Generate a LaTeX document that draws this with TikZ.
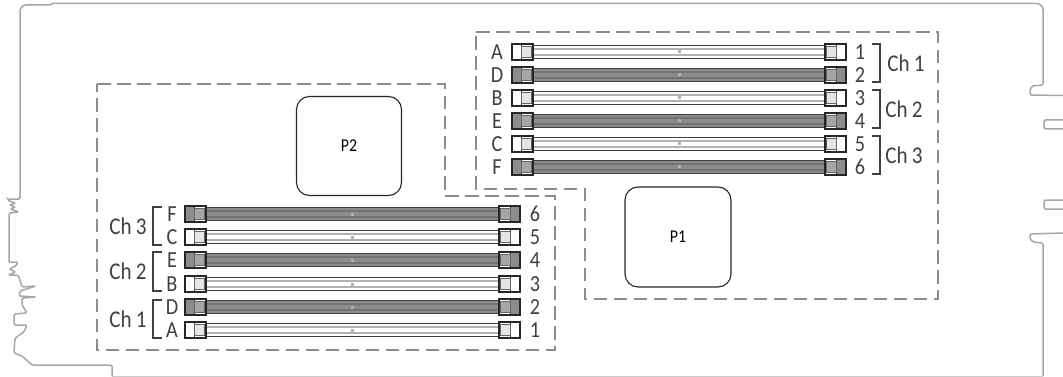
\documentclass[tikz,border=0pt]{standalone}
\usepackage{fontspec}
\setmainfont[FakeStretch=0.88]{Carlito}
\tikzset{
  outline/.style={draw=black!35, line width=1.5pt, rounded corners=1.5pt},
  zone/.style={draw=black!45, line width=1.3pt, dash pattern=on 13.5pt off 6.5pt},
  cpu/.style={draw=black!85, line width=1.1pt, rounded corners=13pt, font=\fontsize{18}{18}\selectfont},
  lbl/.style={inner sep=0pt, text=black!75, font=\fontsize{23}{23}\selectfont},
  chlbl/.style={inner sep=0pt, text=black!75, font=\fontsize{24}{24}\selectfont},
  brk/.style={draw=black!75, line width=1.1pt},
}
% one end of a slot: #1 outer x, #2 direction, #3 centre y, #4 outer fill, #5 inner fill
\newcommand{\memend}[5]{
  \draw[black!85, line width=1.1pt, fill=#4] (#1,#3-8) rectangle (#1+#2*9.5,#3+8);
  \draw[black!60, line width=1pt, fill=#5] (#1+#2*9.5,#3-5.5) rectangle (#1+#2*19.5,#3+5.5);
  \draw[black!85, line width=1.1pt] (#1+#2*9.5,#3-8) -- (#1+#2*21,#3-8) -- (#1+#2*21,#3+8) -- (#1+#2*9.5,#3+8);
}
% one slot: #1 left, #2 right, #3 centre y, #4 body, #5 stripes, #6 inner fill of the ends
\newcommand{\memslot}[6]{
  \fill[#4] (#1+21,#3-7) rectangle (#2-21,#3+7);
  \draw[black!75, line width=1.7pt] (#1+21,#3-6.5) -- (#2-21,#3-6.5);
  \draw[black!75, line width=1.7pt] (#1+21,#3+6.5) -- (#2-21,#3+6.5);
  \draw[#5, line width=1.5pt] (#1+21,#3-3) -- (#2-21,#3-3);
  \draw[#5, line width=1.5pt] (#1+21,#3+3) -- (#2-21,#3+3);
  \fill[black!30] ({(#1+#2)/2-1.5},#3-1.5) rectangle ({(#1+#2)/2+1.5},#3+1.5);
  \memend{#1}{1}{#3}{#4}{#6}
  \memend{#2}{-1}{#3}{#4}{#6}
}
\begin{document}
\begin{tikzpicture}[x=1pt,y=-1pt]
  \useasboundingbox (0,0) rectangle (1063,377);
  % board outline
  \draw[outline] (52,3.5) -- (1037,3.5) -- (1040,4) -- (1043,8) -- (1043,85) -- (1032,86) -- (1030,90) -- (1030,95) -- (1063,95.5);
  \draw[outline] (52,3.5) -- (52,5) -- (24,5) -- (20,9) -- (20,199) -- (8,199) -- (9,201) -- (16,203) -- (9,205) -- (16,207) -- (10,209) -- (19,212) -- (9,213) -- (9,262);
  \draw[outline] (1063,120) -- (1044,120) -- (1044,129) -- (1063,129);
  \draw[outline] (1063,200) -- (1044,200) -- (1044,209) -- (1063,209);
  \draw[outline] (1063,233) -- (1030,234) -- (1030,239) -- (1033,242) -- (1043,243) -- (1043,376);
  \draw[black!20, line width=0.8pt] (1043,376) -- (112,376);
  \draw[outline] (112,376) -- (112,365) -- (32,365) -- (22,356) -- (14,353) -- (15,338) -- (24,332) -- (27,325) -- (14,325) -- (14,314) -- (27,313) -- (22,305) -- (22,298) -- (36,297) -- (19,296) -- (20,291) -- (36,286) -- (22,287) -- (20,280) -- (18,275) -- (8,275) -- (16,272) -- (9,269) -- (16,266) -- (18,262) -- (9,262);
  % dashed zones
  \draw[zone] (476,32) -- (938,32) -- (938,299) -- (585,299) -- (585,189) -- (476,189) -- cycle;
  \draw[zone] (97,84) -- (445,84) -- (445,196) -- (555,196) -- (555,350) -- (97,350) -- cycle;
  % processors
  \node[cpu, minimum width=105pt, minimum height=99pt] (pTwo) at (349,146) {P2};
  \node[cpu, minimum width=106pt, minimum height=100pt] (pOne) at (678,237) {P1};
  % slots of P1
  \foreach \y/\nm/\num/\bd/\st/\inn in {52/A/1/white/black!30/black!10, 75/D/2/black!45/black!55/black!35, 98/B/3/white/black!30/black!10, 121/E/4/black!45/black!55/black!35, 144/C/5/white/black!30/black!10, 167/F/6/black!45/black!55/black!35} {
    \memslot{512}{846}{\y}{\bd}{\st}{\inn}
    \node[lbl] (p1\nm) at (497,\y) {\nm};
    \node[lbl] (p1s\num) at (860,\y) {\num};
  }
  % slots of P2
  \foreach \y/\nm/\num/\bd/\st/\inn in {214/F/6/black!45/black!55/black!35, 237/C/5/white/black!30/black!10, 260/E/4/black!45/black!55/black!35, 284/B/3/white/black!30/black!10, 307/D/2/black!45/black!55/black!35, 330/A/1/white/black!30/black!10} {
    \memslot{185}{520}{\y}{\bd}{\st}{\inn}
    \node[lbl] (p2\nm) at (172,\y) {\nm};
    \node[lbl] (p2s\num) at (535,\y) {\num};
  }
  % channel brackets
  \foreach \ya/\yb/\nm/\cx in {44/82/1/906, 90/128/2/904, 136/174/3/904} {
    \draw[brk] (872,\ya) -- (880,\ya) -- (880,\yb) -- (872,\yb);
    \node[chlbl] (chr\nm) at (\cx,{(\ya+\yb)/2}) {Ch\,\nm};
  }
  \foreach \ya/\yb/\nm in {207/245/3, 252/291/2, 300/338/1} {
    \draw[brk] (162,\ya) -- (153,\ya) -- (153,\yb) -- (162,\yb);
    \node[chlbl] (chl\nm) at (128,{(\ya+\yb)/2}) {Ch\,\nm};
  }
\end{tikzpicture}
\end{document}
